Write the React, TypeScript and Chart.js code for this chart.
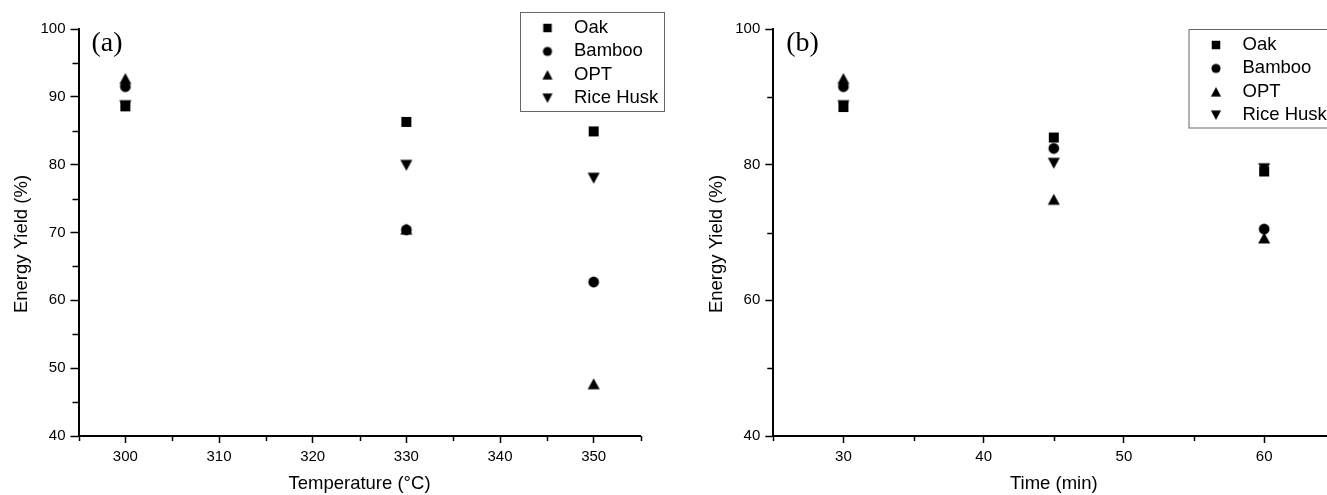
import React, { useEffect, useRef } from 'react';
import { Chart, registerables } from 'chart.js';

Chart.register(...registerables);

const FONT = '"Liberation Sans", Arial, Helvetica, sans-serif';
const SERIF = '"Liberation Serif", "Times New Roman", serif';

// ---------------- data ----------------
const seriesNames = ['Oak', 'Bamboo', 'OPT', 'Rice Husk'];

const temperatures = [300, 330, 350];
const oakByTemp = [88.6, 86.3, 84.9];
const bambooByTemp = [91.5, 70.4, 62.7];
const optByTemp = [92.7, 70.5, 47.7];
const riceHuskByTemp = [88.7, 79.9, 78.0];

const times = [30, 45, 60];
const oakByTime = [88.5, 84.0, 79.0];
const bambooByTime = [91.5, 82.4, 70.5];
const optByTime = [92.7, 74.9, 69.2];
const riceHuskByTime = [88.7, 80.2, 79.4];

const tempTickLabels = [300, 310, 320, 330, 340, 350];
const timeTickLabels = [30, 40, 50, 60];
const yieldTickLabelsA = [40, 50, 60, 70, 80, 90, 100];
const yieldTickLabelsB = [40, 60, 80, 100];

// ---------------- symbols ----------------
type Sym = 'square' | 'circle' | 'up' | 'down';
const symbolKinds: Sym[] = ['square', 'circle', 'up', 'down'];

function makeSymbol(kind: Sym, k: number): HTMLCanvasElement {
  const size = 16;
  const c = document.createElement('canvas');
  c.width = size;
  c.height = size;
  const ctx = c.getContext('2d') as CanvasRenderingContext2D;
  ctx.fillStyle = '#000';
  const m = size / 2;
  ctx.beginPath();
  if (kind === 'square') {
    const s = 10 * k;
    ctx.rect(m - s / 2, m - s / 2, s, s);
  } else if (kind === 'circle') {
    ctx.arc(m, m, 5.4 * k, 0, Math.PI * 2);
  } else if (kind === 'up') {
    const w = 12 * k, h = 11 * k;
    ctx.moveTo(m, m - h / 2);
    ctx.lineTo(m + w / 2, m + h / 2);
    ctx.lineTo(m - w / 2, m + h / 2);
    ctx.closePath();
  } else {
    const w = 12 * k, h = 11 * k;
    ctx.moveTo(m, m + h / 2);
    ctx.lineTo(m + w / 2, m - h / 2);
    ctx.lineTo(m - w / 2, m - h / 2);
    ctx.closePath();
  }
  ctx.fill();
  return c;
}

// ---------------- overlay plugin (minor ticks, panel label, y title, legend) ----------------
const overlayPlugin = {
  id: 'panelOverlay',
  afterDraw(chart: any, _args: any, opts: any) {
    const { ctx, chartArea } = chart;
    ctx.save();

    // minor ticks (shorter than major ones)
    ctx.strokeStyle = '#000';
    ctx.lineWidth = 1.5;
    const xs = chart.scales.x;
    const ys = chart.scales.y;
    ctx.beginPath();
    xs.ticks.forEach((t: any) => {
      if (opts.xMajor.includes(t.value)) return;
      const px = Math.round(xs.getPixelForValue(t.value)) + 0.5;
      ctx.moveTo(px, chartArea.bottom);
      ctx.lineTo(px, chartArea.bottom + 5);
    });
    ys.ticks.forEach((t: any) => {
      if (opts.yMajor.includes(t.value)) return;
      const py = Math.round(ys.getPixelForValue(t.value)) + 0.5;
      ctx.moveTo(chartArea.left, py);
      ctx.lineTo(chartArea.left - 6, py);
    });
    ctx.stroke();

    ctx.fillStyle = '#000';
    // panel label
    ctx.font = `28px ${SERIF}`;
    ctx.textAlign = 'left';
    ctx.textBaseline = 'alphabetic';
    ctx.fillText(opts.label, chartArea.left + 13, 51);

    // y title
    ctx.save();
    ctx.font = `18.5px ${FONT}`;
    ctx.translate(opts.yTitleX, (chartArea.top + chartArea.bottom) / 2 + 11.5);
    ctx.rotate(-Math.PI / 2);
    ctx.textAlign = 'center';
    ctx.textBaseline = 'middle';
    ctx.fillText(opts.yTitle, 0, 0);
    ctx.restore();

    // legend
    const b = opts.legendBox;
    ctx.fillStyle = '#fff';
    ctx.fillRect(b.x, b.y, b.w, b.h);
    ctx.strokeStyle = '#666';
    ctx.lineWidth = 1;
    ctx.strokeRect(b.x + 0.5, b.y + 0.5, b.w, b.h);
    ctx.fillStyle = '#000';
    ctx.font = `18.5px ${FONT}`;
    ctx.textAlign = 'left';
    ctx.textBaseline = 'middle';
    opts.names.forEach((name: string, i: number) => {
      const yy = b.y + 16 + i * 23.4;
      const sym = opts.symbols[i] as HTMLCanvasElement;
      ctx.drawImage(sym, b.x + 27.5 - sym.width / 2, yy - sym.height / 2);
      ctx.fillText(name, b.x + 54, yy);
    });
    ctx.restore();
  },
};

type PanelProps = {
  left: number;
  width: number;
  xs: number[];
  series: number[][];
  xMin: number;
  xMax: number;
  xMajor: number[];
  yStep: number;
  yMajor: number[];
  xTitle: string;
  label: string;
  yAxisWidth: number;
  padRight: number;
  yTitleX: number;
  legendBox: { x: number; y: number; w: number; h: number };
};

function Panel(p: PanelProps) {
  const ref = useRef<HTMLCanvasElement>(null);
  useEffect(() => {
    const big = symbolKinds.map((k) => makeSymbol(k, 1));
    const small = symbolKinds.map((k) => makeSymbol(k, 0.85));
    const datasets = p.series.map((vals, si) => ({
      label: seriesNames[si],
      data: p.xs.map((x, i) => ({ x, y: vals[i] })),
      pointStyle: big[si] as any,
      pointRadius: 5,
      showLine: false,
      backgroundColor: '#000',
      borderColor: '#000',
    }));
    const majorTickColorX = (c: any) =>
      c.tick && p.xMajor.includes(c.tick.value) ? '#000' : 'rgba(0,0,0,0)';
    const majorTickColorY = (c: any) =>
      c.tick && p.yMajor.includes(c.tick.value) ? '#000' : 'rgba(0,0,0,0)';
    const chart = new Chart(ref.current as HTMLCanvasElement, {
      type: 'scatter',
      data: { datasets },
      plugins: [overlayPlugin as any],
      options: {
        responsive: false,
        animation: false,
        events: [],
        layout: { padding: { left: 0, top: 29, right: p.padRight, bottom: 0 } },
        plugins: {
          legend: { display: false },
          tooltip: { enabled: false },
          panelOverlay: {
            label: p.label,
            yTitle: 'Energy Yield (%)',
            yTitleX: p.yTitleX,
            legendBox: p.legendBox,
            names: seriesNames,
            symbols: small,
            xMajor: p.xMajor,
            yMajor: p.yMajor,
          },
        } as any,
        scales: {
          x: {
            type: 'linear',
            min: p.xMin,
            max: p.xMax,
            ticks: {
              stepSize: 5,
              autoSkip: false,
              maxRotation: 0,
              padding: 5,
              color: '#000',
              font: { size: 15, family: FONT },
              callback: (v: any) => (p.xMajor.includes(Number(v)) ? String(v) : ''),
            },
            grid: {
              drawOnChartArea: false,
              drawTicks: true,
              tickLength: 7,
              tickColor: majorTickColorX,
              tickWidth: 1.5,
            },
            border: { display: true, color: '#000', width: 2 },
            title: {
              display: true,
              text: p.xTitle,
              color: '#000',
              font: { size: 18.5, family: FONT, lineHeight: 1.15 },
              padding: { top: 0, bottom: 0 },
            },
            afterFit: (s: any) => {
              s.height = 59;
            },
          },
          y: {
            type: 'linear',
            min: 40,
            max: 100,
            ticks: {
              stepSize: p.yStep,
              autoSkip: false,
              padding: 5,
              color: '#000',
              font: { size: 15, family: FONT },
              callback: (v: any) => (p.yMajor.includes(Number(v)) ? String(v) : ''),
            },
            grid: {
              drawOnChartArea: false,
              drawTicks: true,
              tickLength: 8,
              tickColor: majorTickColorY,
              tickWidth: 1.5,
            },
            border: { display: true, color: '#000', width: 2 },
            title: { display: false },
            afterFit: (s: any) => {
              s.width = p.yAxisWidth;
            },
          },
        } as any,
      },
    });
    return () => chart.destroy();
  }, []);
  return (
    <canvas
      ref={ref}
      width={p.width}
      height={495}
      style={{ position: 'absolute', left: p.left, top: 0, width: p.width, height: 495 }}
    />
  );
}

export default function App() {
  return (
    <div
      style={{
        position: 'fixed',
        left: 0,
        top: 0,
        width: 1327,
        height: 495,
        overflow: 'hidden',
        background: '#fff',
      }}
    >
      <Panel
        left={0}
        width={680}
        xs={temperatures}
        series={[oakByTemp, bambooByTemp, optByTemp, riceHuskByTemp]}
        xMin={295}
        xMax={355}
        xMajor={tempTickLabels}
        yStep={5}
        yMajor={yieldTickLabelsA}
        xTitle="Temperature (°C)"
        label="(a)"
        yAxisWidth={78.5}
        padRight={39.5}
        yTitleX={21.7}
        legendBox={{ x: 520, y: 12, w: 144, h: 99 }}
      />
      <Panel
        left={670}
        width={680}
        xs={times}
        series={[oakByTime, bambooByTime, optByTime, riceHuskByTime]}
        xMin={25}
        xMax={65}
        xMajor={timeTickLabels}
        yStep={10}
        yMajor={yieldTickLabelsB}
        xTitle="Time (min)"
        label="(b)"
        yAxisWidth={103.3}
        padRight={15.7}
        yTitleX={46.7}
        legendBox={{ x: 518.5, y: 29, w: 144, h: 98.5 }}
      />
    </div>
  );
}
